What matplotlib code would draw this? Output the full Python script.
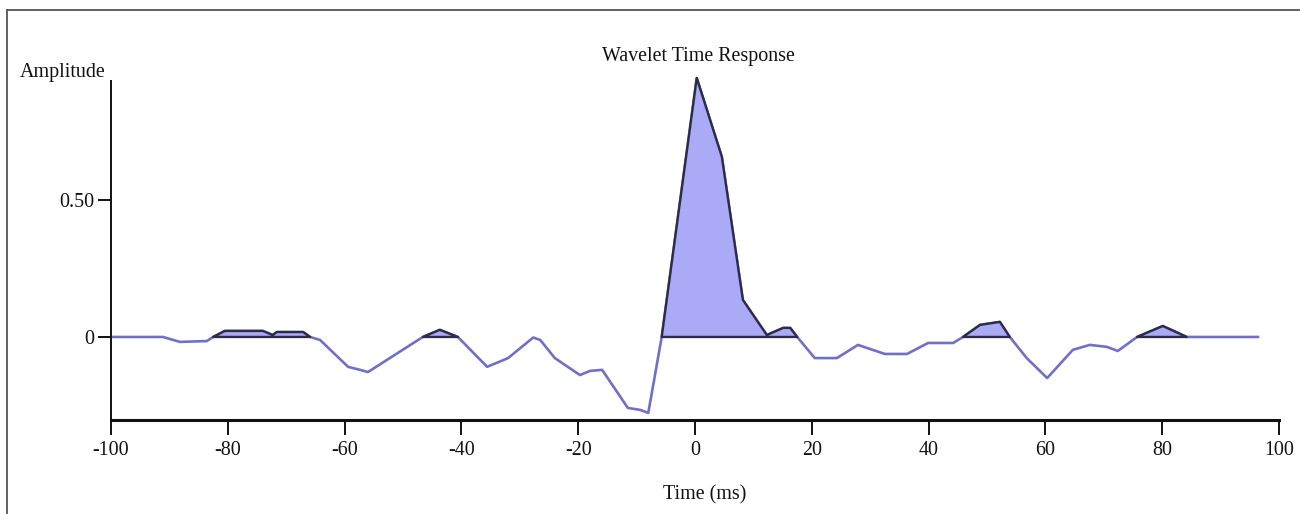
import numpy as np
import matplotlib
matplotlib.use("Agg")
import matplotlib.pyplot as plt
from matplotlib.lines import Line2D

# Wavelet samples: time (ms) and amplitude
time_ms = [-99.7, -91.1, -88.2, -83.6, -82.5, -80.5, -74.0, -72.3, -71.6, -67.1,
           -65.9, -64.2, -59.4, -57.9, -56.0, -46.6, -43.7, -40.6, -35.6, -32.0,
           -27.7, -26.5, -24.0, -19.7, -18.0, -15.9, -11.5, -9.4, -8.0, -5.7,
           0.3, 4.6, 8.2, 12.3, 15.1, 16.3, 17.5, 20.5, 24.3, 27.9,
           32.5, 36.3, 39.9, 44.2, 45.9, 48.8, 52.2, 53.9, 56.8, 60.3,
           64.7, 67.6, 70.5, 72.4, 75.7, 80.1, 84.2, 96.4]
amplitude = [0.0, 0.0, -0.018, -0.015, 0.0, 0.022, 0.022, 0.007, 0.018, 0.018,
             0.0, -0.011, -0.109, -0.117, -0.128, 0.0, 0.026, 0.0, -0.109, -0.077,
             -0.002, -0.011, -0.077, -0.139, -0.124, -0.120, -0.259, -0.266, -0.277, 0.0,
             0.945, 0.657, 0.135, 0.007, 0.033, 0.033, 0.0, -0.077, -0.077, -0.029,
             -0.062, -0.062, -0.022, -0.022, 0.0, 0.044, 0.055, 0.0, -0.077, -0.150,
             -0.047, -0.029, -0.036, -0.051, 0.0, 0.040, 0.0, 0.0]

x_ticks = [-100, -80, -60, -40, -20, 0, 20, 40, 60, 80, 100]
x_tick_labels = ["-100", "-80", "-60", "-40", "-20", "0", "20", "40", "60", "80", "100"]
y_ticks = [0.0, 0.5]
y_tick_labels = ["0", "0.50"]

serif = ["Liberation Serif", "DejaVu Serif"]
plt.rcParams["font.family"] = serif

W, H = 1300, 514
fig = plt.figure(figsize=(W / 100, H / 100), dpi=100)
fig.patch.set_facecolor("white")

left, right, top, bottom = 111, 1279, 81, 420
ax = fig.add_axes([left / W, 1 - bottom / H, (right - left) / W, (bottom - top) / H])

t = np.array(time_ms)
a = np.array(amplitude)

line_color = "#7070c8"
fill_color = "#aaaaf6"
edge_color = "#2c2c44"

ax.plot(t, a, color=line_color, lw=1.9, clip_on=False, zorder=2,
        solid_joinstyle="round")
ax.fill_between(t, a, 0, where=a > 0, interpolate=True, facecolor=fill_color,
                edgecolor=edge_color, linewidth=1.7, clip_on=False, zorder=3)

ax.set_xlim(-100, 100)
ax.set_ylim(-0.303, 0.934)

ax.set_xticks(x_ticks)
ax.set_xticklabels(x_tick_labels)
ax.set_yticks(y_ticks)
ax.set_yticklabels(y_tick_labels)

for s in ("top", "right"):
    ax.spines[s].set_visible(False)
ax.spines["bottom"].set_linewidth(2.2)
ax.spines["left"].set_linewidth(1.4)
ax.spines["bottom"].set_color("#111111")
ax.spines["left"].set_color("#111111")

ax.tick_params(axis="x", direction="out", length=11, width=1.4, pad=4,
               labelsize=14.4, colors="#111111")
ax.tick_params(axis="y", direction="out", length=9.5, width=1.4, pad=2.5,
               labelsize=14.4, colors="#111111")
ax.set_facecolor("white")

fig.text(698 / W, 1 - 56 / H, "Wavelet Time Response", ha="center", va="center",
         fontsize=14.4, color="#111111")
fig.text(20 / W, 1 - 72 / H, "Amplitude", ha="left", va="center",
         fontsize=14.4, color="#111111")
fig.text(705 / W, 1 - 495 / H, "Time (ms)", ha="center", va="center",
         fontsize=14.4, color="#111111")

# Frame around the figure (left and top edges)
frame_kw = dict(transform=fig.transFigure, color="#555555", lw=1.3)
fig.add_artist(Line2D([7 / W, 7 / W], [0, 1 - 10 / H], **frame_kw))
fig.add_artist(Line2D([7 / W, 1], [1 - 10 / H, 1 - 10 / H], **frame_kw))

fig.savefig("out.png", dpi=100, facecolor="white")
